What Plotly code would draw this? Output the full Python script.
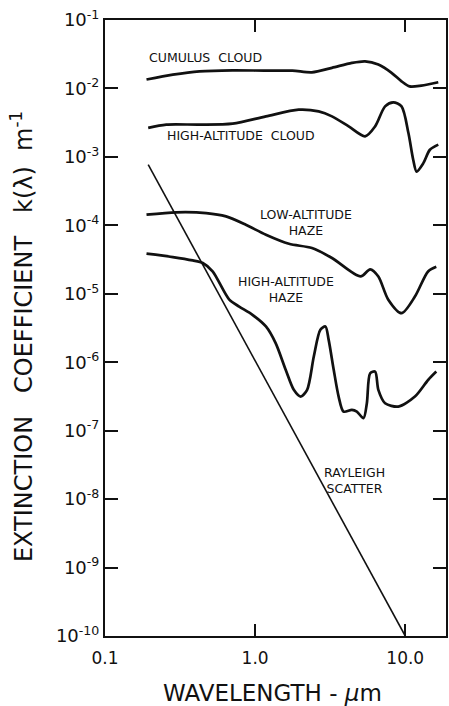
import plotly.graph_objects as go

# Wavelength (µm) and extinction coefficient k (1/m) for each atmospheric medium
cumulus_wl = [0.189, 0.283, 0.426, 0.708, 1.18, 1.77, 2.39, 3.25, 4.41, 5.40, 6.62, 8.11, 9.45, 10.7, 12.8, 16.6]
cumulus_k = [1.35e-2, 1.59e-2, 1.78e-2, 1.84e-2, 1.82e-2, 1.82e-2, 1.72e-2, 2.0e-2, 2.36e-2, 2.49e-2,
             2.23e-2, 1.69e-2, 1.27e-2, 1.07e-2, 1.10e-2, 1.23e-2]

hi_cloud_wl = [0.194, 0.256, 0.426, 0.708, 1.18, 1.95, 2.65, 3.25, 4.20, 5.40, 6.30, 7.34, 8.33, 9.45,
               10.5, 11.3, 11.9, 13.2, 14.6, 16.6]
hi_cloud_k = [2.65e-3, 2.96e-3, 2.96e-3, 3.06e-3, 3.91e-3, 4.90e-3, 4.62e-3, 3.91e-3, 2.79e-3, 2.0e-3,
              2.79e-3, 5.47e-3, 6.26e-3, 5.47e-3, 2.23e-3, 9.1e-4, 6.1e-4, 8.1e-4, 1.27e-3, 1.51e-3]

lo_haze_wl = [0.189, 0.299, 0.472, 0.640, 0.867, 1.18, 1.68, 2.39, 3.25, 5.04, 5.84, 6.62, 7.71, 9.45,
              11.6, 14.2, 16.1]
lo_haze_k = [1.43e-4, 1.55e-4, 1.51e-4, 1.35e-4, 1.02e-4, 7.3e-5, 5.38e-5, 4.66e-5, 3.33e-5, 1.79e-5,
             2.28e-5, 1.79e-5, 8.2e-6, 5.2e-6, 9.1e-6, 2.12e-5, 2.48e-5]

hi_haze_wl = [0.189, 0.283, 0.384, 0.448, 0.521, 0.673, 0.783, 0.960, 1.18, 1.37, 1.60, 1.81, 2.01, 2.22,
              2.46, 2.72, 2.94, 3.09, 3.34, 3.60, 3.88, 4.41, 4.76, 5.27, 5.55, 5.84, 6.30, 6.62, 7.34,
              8.99, 11.6, 14.2, 16.1]
hi_haze_k = [3.85e-5, 3.44e-5, 3.07e-5, 2.81e-5, 2.12e-5, 8.2e-6, 6.5e-6, 4.93e-6, 3.33e-6, 1.90e-6,
             7.7e-7, 3.95e-7, 3.15e-7, 3.95e-7, 1.21e-6, 2.98e-6, 3.33e-6, 2.12e-6, 7.7e-7, 3.15e-7,
             1.90e-7, 2.01e-7, 1.90e-7, 1.52e-7, 2.52e-7, 6.9e-7, 7.3e-7, 3.95e-7, 2.52e-7, 2.25e-7,
             3.15e-7, 5.5e-7, 7.3e-7]

rayleigh_wl = [0.194, 10.0]
rayleigh_k = [7.7e-4, 1.0e-10]

x_tickvals = [0.1, 1.0, 10.0]
x_ticktext = ["0.1", "1.0", "10.0"]
y_tickvals = [10.0 ** e for e in range(-10, 0)]
y_ticktext = ["10<sup>-%d</sup>" % -e for e in range(-10, 0)]

FONT = "DejaVu Sans"
INK = "#111111"
SP = "\u00a0"

fig = go.Figure()
for wl, k in [(cumulus_wl, cumulus_k), (hi_cloud_wl, hi_cloud_k),
              (lo_haze_wl, lo_haze_k), (hi_haze_wl, hi_haze_k)]:
    fig.add_trace(go.Scatter(x=wl, y=k, mode="lines",
                             line=dict(color=INK, width=2.7, shape="spline", smoothing=0.8),
                             showlegend=False, hoverinfo="skip"))
fig.add_trace(go.Scatter(x=rayleigh_wl, y=rayleigh_k, mode="lines",
                         line=dict(color=INK, width=1.6), showlegend=False, hoverinfo="skip"))

# Curve labels (log10 coordinates on log axes)
labels = [
    ("CUMULUS" + SP * 2 + "CLOUD", -0.331, -1.55),
    ("HIGH-ALTITUDE" + SP * 2 + "CLOUD", -0.093, -2.69),
    ("LOW-ALTITUDE<br>HAZE", 0.338, -3.96),
    ("HIGH-ALTITUDE<br>HAZE", 0.205, -4.94),
    ("RAYLEIGH<br>SCATTER", 0.662, -7.73),
]
for text, lx, ly in labels:
    fig.add_annotation(x=lx, y=ly, xref="x", yref="y", text=text, showarrow=False,
                       font=dict(family=FONT, size=12.5, color=INK), align="center")

# Axis titles
fig.add_annotation(x=0.49, y=-0.092, xref="paper", yref="paper", yanchor="middle",
                   text="WAVELENGTH" + SP + "-" + SP + "<i>\u03bc</i>m", showarrow=False,
                   font=dict(family=FONT, size=23, color=INK))
fig.add_annotation(x=-0.245, y=0.486, xref="paper", yref="paper", xanchor="center",
                   text="EXTINCTION" + SP * 3 + "COEFFICIENT" + SP * 3 + "k(\u03bb)" + SP * 2 + "m<sup>-1</sup>",
                   showarrow=False, textangle=-90, font=dict(family=FONT, size=24, color=INK))

axis_common = dict(showgrid=False, zeroline=False, showline=True, linecolor=INK, linewidth=2,
                   mirror="allticks", ticks="inside", tickcolor=INK, tickwidth=1.6)

fig.update_xaxes(type="log", range=[-1, 1.2715], tickvals=x_tickvals, ticktext=x_ticktext,
                 ticklen=12, ticklabelstandoff=6,
                 tickfont=dict(family=FONT, size=17, color=INK), **axis_common)
fig.update_yaxes(type="log", range=[-10, -1], tickvals=y_tickvals, ticktext=y_ticktext,
                 ticklen=13, tickfont=dict(family=FONT, size=18, color=INK), **axis_common)

fig.update_layout(width=449, height=706, margin=dict(l=105, r=1, t=20, b=70),
                  paper_bgcolor="white", plot_bgcolor="white")

fig.write_html("out.html")
